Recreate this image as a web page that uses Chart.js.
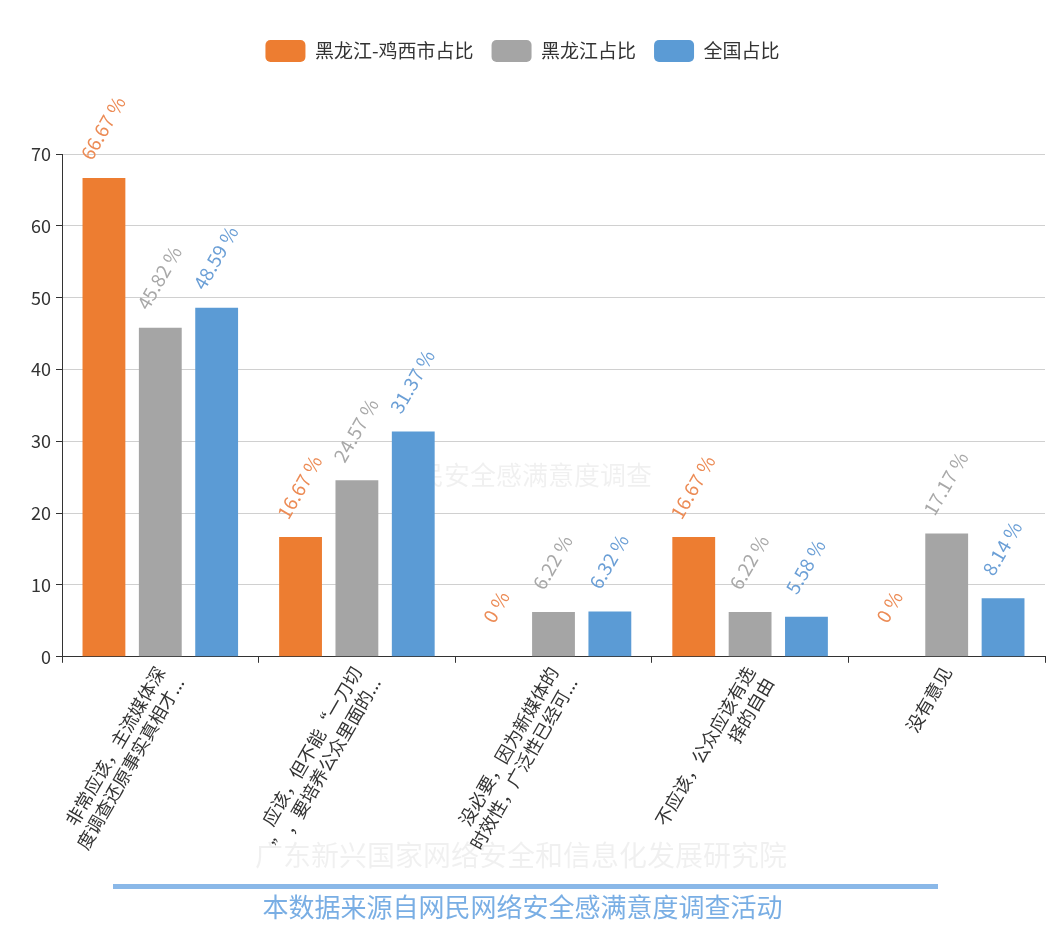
<!DOCTYPE html>
<html>
<head>
<meta charset="utf-8">
<script src="https://cdn.jsdelivr.net/npm/chart.js@4.4.0/dist/chart.umd.min.js"></script>
<style>
  html, body { margin: 0; padding: 0; background: #fff; }
  #wrap { width: 1047px; height: 927px; }
</style>
</head>
<body>
<div id="wrap"><canvas id="c" width="1047" height="927"></canvas></div>
<script>
// 选项（两行显示）
const categories = [
  ['非常应该，主流媒体深', '度调查还原事实真相才...'],
  ['应该，但不能“一刀切', '”，要培养公众里面的...'],
  ['没必要，因为新媒体的', '时效性，广泛性已经可...'],
  ['不应该，公众应该有选', '择的自由'],
  ['没有意见']
];
const seriesNames = ['黑龙江-鸡西市占比', '黑龙江占比', '全国占比'];
const jixi = [66.67, 16.67, 0, 16.67, 0];
const heilongjiang = [45.82, 24.57, 6.22, 6.22, 17.17];
const national = [48.59, 31.37, 6.32, 5.58, 8.14];
const yTicks = [0, 10, 20, 30, 40, 50, 60, 70];
const colors = ['#ed7d31', '#a5a5a5', '#5b9bd5'];
const labelColors = ['#ec8b55', '#a8a8a8', '#6b9fd6'];

const FONT = '"Noto Sans CJK SC", "Noto Sans", sans-serif';

// 柱顶的旋转数值标签
const barLabels = {
  id: 'barLabels',
  afterDatasetsDraw(chart) {
    const ctx = chart.ctx;
    chart.data.datasets.forEach((ds, i) => {
      const meta = chart.getDatasetMeta(i);
      meta.data.forEach((bar, j) => {
        ctx.save();
        ctx.translate(bar.x - 1, bar.y - 50);
        ctx.rotate(-Math.PI / 3);
        ctx.font = '19px ' + FONT;
        ctx.fillStyle = labelColors[i];
        ctx.textAlign = 'center';
        ctx.textBaseline = 'middle';
        ctx.fillText(ds.data[j] + ' %', 0, 0);
        ctx.restore();
      });
    });
  }
};

// 水印 + 底部蓝线
const extras = {
  id: 'extras',
  beforeDatasetsDraw(chart) {
    const ctx = chart.ctx;
    ctx.save();
    ctx.fillStyle = 'rgba(0,0,0,0.06)';
    ctx.textAlign = 'center';
    ctx.textBaseline = 'middle';
    ctx.font = '26px ' + FONT;
    ctx.fillText('网民安全感满意度调查', 522, 475);
    ctx.restore();
  },
  afterDraw(chart) {
    const ctx = chart.ctx;
    ctx.save();
    ctx.fillStyle = 'rgba(0,0,0,0.06)';
    ctx.textAlign = 'center';
    ctx.textBaseline = 'middle';
    ctx.font = '28px ' + FONT;
    ctx.fillText('广东新兴国家网络安全和信息化发展研究院', 521, 855);
    ctx.fillStyle = '#8ab8e8';
    ctx.fillRect(113, 884, 825, 5);
    ctx.restore();
  }
};

const legendGap = {
  id: 'legendGap',
  beforeInit(chart) {
    const fit = chart.legend.fit;
    chart.legend.fit = function () {
      fit.bind(chart.legend)();
      this.height += 82;
    };
  }
};

new Chart(document.getElementById('c'), {
  type: 'bar',
  data: {
    labels: categories,
    datasets: [
      { label: seriesNames[0], data: jixi, backgroundColor: colors[0] },
      { label: seriesNames[1], data: heilongjiang, backgroundColor: colors[1] },
      { label: seriesNames[2], data: national, backgroundColor: colors[2] }
    ]
  },
  options: {
    responsive: false,
    animation: false,
    categoryPercentage: 0.86,
    barPercentage: 0.76,
    layout: { padding: { top: 22, left: 0, right: 2, bottom: 0 } },
    plugins: {
      legend: {
        position: 'top',
        labels: {
          boxWidth: 40,
          boxHeight: 22,
          useBorderRadius: true,
          borderRadius: 5,
          color: '#333',
          padding: 18,
          font: { family: FONT, size: 19 }
        }
      },
      title: {
        display: true,
        position: 'bottom',
        text: '本数据来源自网民网络安全感满意度调查活动',
        color: '#79aee4',
        font: { family: FONT, size: 26, weight: 'normal' },
        padding: { top: 40, bottom: 4 }
      },
      tooltip: { enabled: false }
    },
    scales: {
      x: {
        grid: { offset: true, drawOnChartArea: false, drawTicks: true, tickLength: 6, tickColor: '#333' },
        border: { color: '#333' },
        ticks: {
          color: '#333',
          autoSkip: false,
          maxRotation: 60,
          minRotation: 60,
          font: { family: FONT, size: 18 },
          padding: 0
        },
        afterFit(scale) { scale.height = 195; }
      },
      y: {
        min: 0,
        max: 70,
        afterBuildTicks(scale) { scale.ticks = yTicks.map(v => ({ value: v })); },
        grid: { color: '#d0d0d0', tickLength: 6, tickColor: '#333' },
        border: { color: '#333' },
        ticks: { color: '#333', font: { family: FONT, size: 18 }, padding: 5 },
        afterFit(scale) { scale.width = 62; }
      }
    }
  },
  plugins: [barLabels, extras, legendGap]
});
</script>
</body>
</html>
